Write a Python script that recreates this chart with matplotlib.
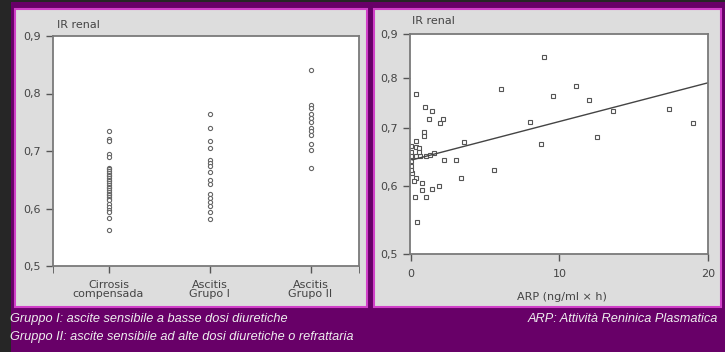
import matplotlib.pyplot as plt
from matplotlib.patches import Rectangle
from matplotlib.ticker import NullLocator, FixedLocator

W, H = 725, 352

# pannello sinistro: IR renale per gruppo
categorie = ["Cirrosis\ncompensada", "Ascitis\nGrupo I", "Ascitis\nGrupo II"]
cirrosi = [0.735, 0.721, 0.717, 0.695, 0.690, 0.671, 0.668, 0.665, 0.662, 0.659,
           0.656, 0.653, 0.650, 0.647, 0.644, 0.641, 0.638, 0.635, 0.632, 0.629,
           0.626, 0.623, 0.620, 0.617, 0.614, 0.608, 0.603, 0.598, 0.594, 0.584, 0.563]
gruppo1 = [0.765, 0.740, 0.718, 0.706, 0.685, 0.679, 0.674, 0.663, 0.649, 0.642,
           0.626, 0.619, 0.611, 0.604, 0.594, 0.582]
gruppo2 = [0.841, 0.780, 0.775, 0.765, 0.758, 0.750, 0.740, 0.735, 0.728, 0.713,
           0.701, 0.670]
y_ticks = [0.5, 0.6, 0.7, 0.8, 0.9]
y_labels = ["0,5", "0,6", "0,7", "0,8", "0,9"]

# pannello destro: IR renale vs ARP
arp = [0.34, 0.94, 1.46, 1.23, 2.17, 2.0, 0.9, 0.9, 3.58, 0.34,
       0.05, 0.34, 0.05, 0.55, 0.05, 0.34, 0.65, 0.55, 1.0, 0.05,
       0.1, 0.34, 0.78, 1.3, 1.57, 2.26, 3.07, 3.36, 0.78, 1.46,
       1.9, 0.27, 1.0, 0.4, 0.05, 0.05, 0.2,
       5.6, 6.1, 8.0, 8.77, 8.95, 9.58, 11.1, 12.0, 12.5, 13.6, 17.4, 19.0]
ir = [0.767, 0.740, 0.733, 0.718, 0.718, 0.709, 0.692, 0.686, 0.674, 0.677,
      0.667, 0.666, 0.657, 0.663, 0.650, 0.649, 0.650, 0.656, 0.649, 0.632,
      0.620, 0.612, 0.604, 0.652, 0.655, 0.643, 0.643, 0.612, 0.594, 0.595,
      0.599, 0.582, 0.582, 0.545, 0.641, 0.626, 0.608,
      0.625, 0.778, 0.712, 0.671, 0.846, 0.762, 0.784, 0.755, 0.684, 0.733, 0.737, 0.710]
retta_x = [0.1, 20]
retta_y = [0.643, 0.790]

fig = plt.figure(figsize=(W / 100, H / 100), dpi=100)
fig.patch.set_facecolor("#680068")

def px_rect(x0, y0, x1, y1, **kw):
    # rettangolo in pixel (origine in alto a sinistra), dietro agli assi
    r = Rectangle((x0 / W, 1 - y1 / H), (x1 - x0) / W, (y1 - y0) / H,
                  transform=fig.transFigure, zorder=-10, **kw)
    fig.patches.append(r)

px_rect(0, 0, 11, H, facecolor="#262626", edgecolor="none")
px_rect(0, 0, W, 2, facecolor="#262626", edgecolor="none")
px_rect(15, 9, 367, 307, facecolor="#dddddd", edgecolor="#d040c8", lw=1.5)
px_rect(374, 9, 721, 307, facecolor="#dddddd", edgecolor="#d040c8", lw=1.5)

def ax_px(x0, y0, x1, y1):
    return fig.add_axes([x0 / W, 1 - y1 / H, (x1 - x0) / W, (y1 - y0) / H])

def stile(ax):
    ax.set_facecolor("white")
    for s in ax.spines.values():
        s.set_color("#7a7a7a")
        s.set_linewidth(1.3)
    ax.tick_params(direction="out", length=5, width=1, color="#555555",
                   labelcolor="#444444", labelsize=8)

# sinistra
ax1 = ax_px(53, 36, 359, 266)
stile(ax1)
mk = dict(marker="o", ms=3.0, mfc="white", mec="#666666", mew=0.8, ls="none")
for i, vals in enumerate([cirrosi, gruppo1, gruppo2]):
    ax1.plot([i] * len(vals), vals, **mk)
ax1.set_xlim(-0.55, 2.48)
ax1.set_ylim(0.5, 0.9)
ax1.set_yticks(y_ticks)
ax1.set_yticklabels(y_labels)
ax1.set_xticks([0, 1, 2])
ax1.set_xticklabels(categorie, linespacing=0.95)
ax1.xaxis.set_minor_locator(FixedLocator([-0.55, 2.48]))
ax1.tick_params(axis="x", which="both", length=5, pad=5, color="#555555", direction="out")
fig.text(57 / W, 1 - 25 / H, "IR renal", fontsize=8, color="#444444", ha="left", va="center")

# destra
ax2 = ax_px(410, 34, 708, 254)
stile(ax2)
ax2.set_yscale("log")
ax2.plot(arp, ir, marker="s", ms=3.0, mfc="white", mec="#555555", mew=0.8, ls="none")
ax2.plot(retta_x, retta_y, color="#444444", lw=1)
ax2.set_xlim(-0.05, 20)
ax2.set_ylim(0.5, 0.9)
ax2.yaxis.set_major_locator(FixedLocator(y_ticks))
ax2.yaxis.set_minor_locator(NullLocator())
ax2.set_yticklabels(y_labels)
ax2.set_xticks([0, 10, 20])
ax2.tick_params(axis="x", pad=6)
fig.text(412 / W, 1 - 21 / H, "IR renal", fontsize=8, color="#444444", ha="left", va="center")
fig.text(562 / W, 1 - 297 / H, "ARP (ng/ml × h)", fontsize=8, color="#444444",
         ha="center", va="center")

# didascalie
fam = ["Liberation Sans Narrow", "Liberation Sans", "DejaVu Sans"]
cap = dict(fontsize=9.2, color="#eeeeee", style="italic", family=fam, va="center")
fig.text(10 / W, 1 - 319 / H, "Gruppo I: ascite sensibile a basse dosi diuretiche", ha="left", **cap)
fig.text(10 / W, 1 - 337 / H, "Gruppo II: ascite sensibile ad alte dosi diuretiche o refrattaria", ha="left", **cap)
fig.text(718 / W, 1 - 319 / H, "ARP: Attività Reninica Plasmatica", ha="right", **cap)

fig.savefig("out.png", dpi=100, facecolor=fig.get_facecolor())
